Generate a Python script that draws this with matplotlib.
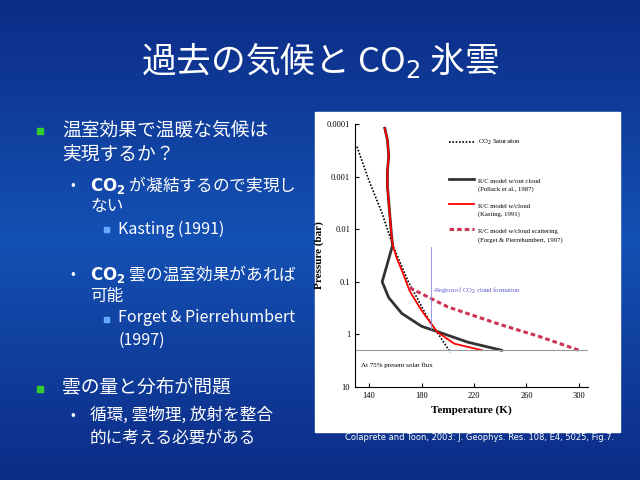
import numpy as np
import matplotlib.pyplot as plt
from matplotlib.colors import LinearSegmentedColormap
from matplotlib.patches import Rectangle

# --- chart data ---
sat_T = [130.8, 140, 150, 158, 170, 185, 202]
sat_p = [2.7e-4, 1.2e-3, 5e-3, 0.02, 0.1, 0.5, 2.2]

upper_T = [152, 154, 155, 154, 154, 155, 156, 157, 158]
upper_p = [1.2e-4, 2e-4, 4e-4, 8e-4, 1.5e-3, 3e-3, 6e-3, 1.2e-2, 2e-2]

red_T = upper_T + [161, 166, 171, 180, 192, 205, 226]
red_p = upper_p + [0.035, 0.07, 0.15, 0.35, 0.9, 1.5, 2.0]

blk_T = upper_T + [154, 150, 155, 165, 180, 193, 215, 241]
blk_p = upper_p + [0.045, 0.1, 0.2, 0.4, 0.7, 0.9, 1.4, 2.0]

pink_T = [171, 200, 240, 270, 300]
pink_p = [0.13, 0.3, 0.65, 1.1, 2.0]

W, H = 640, 480
fig = plt.figure(figsize=(6.4, 4.8), dpi=100)

# slide background gradient
bg = fig.add_axes([0, 0, 1, 1])
grad = np.linspace(0, 1, 256).reshape(-1, 1)
bg.imshow(grad, extent=[0, 1, 0, 1], aspect="auto",
          cmap=LinearSegmentedColormap.from_list("bg", ["#0c2c86", "#1451b4", "#0c2c86"]))
bg.set_xlim(0, 1); bg.set_ylim(0, 1)
bg.axis("off")

# white image panel (inside the background axes so it sits below the chart)
bg.add_patch(Rectangle((315 / W, 1 - 432 / H), 305 / W, 320 / H, color="white", zorder=3))

jp = "Noto Sans CJK JP"
def txt(x, y, s, size, **kw):
    fig.text(x / W, 1 - y / H, s, fontsize=size, fontfamily=jp,
             color=kw.pop("color", "white"), va=kw.pop("va", "center"), **kw)

def sq(x, y, s, c):
    bg.add_patch(Rectangle((x / W, 1 - (y + s / 2) / H), s / W, s / H, color=c, zorder=3))

txt(320, 60, "過去の気候と CO$_2$ 氷雲", 25, ha="center")

sq(37, 131, 6, "#33cc33")
txt(62, 130, "温室効果で温暖な気候は", 13.5)
txt(62, 155, "実現するか？", 13.5)
txt(70, 185, "•", 10)
txt(90, 185, r"$\mathbf{CO_2}$ が凝結するので実現し", 12)
txt(90, 207, "ない", 12)
sq(104, 229, 5, "#66aaff")
txt(118, 229, "Kasting (1991)", 11.5)
txt(70, 274, "•", 10)
txt(90, 274, r"$\mathbf{CO_2}$ 雲の温室効果があれば", 12)
txt(90, 296, "可能", 12)
sq(104, 319, 5, "#66aaff")
txt(118, 318, "Forget & Pierrehumbert", 11.5)
txt(118, 340, "(1997)", 11.5)
sq(37, 389, 6, "#33cc33")
txt(62, 388, "雲の量と分布が問題", 13.5)
txt(70, 415, "•", 10)
txt(90, 415, "循環, 雲物理, 放射を整合", 12)
txt(90, 438, "的に考える必要がある", 12)
fig.text(480 / W, 1 - 438 / H,
         "Colaprete and Toon, 2003: J. Geophys. Res. 108, E4, 5025, Fig.7.",
         fontsize=6, color="white", ha="center", va="center")

ax = fig.add_axes([355 / W, 1 - 387 / H, 233 / W, 263 / H])
ax.set_facecolor("white")
ax.set_yscale("log")
ax.set_xlim(129.3, 306.9)
ax.set_ylim(10, 1e-4)
ax.plot(sat_T, sat_p, color="black", ls=(0, (1, 1)), lw=1.2)
ax.plot(blk_T, blk_p, color="#333333", lw=2.0)
ax.plot(red_T, red_p, color="red", lw=1.3)
ax.plot(pink_T, pink_p, color="#cc3355", ls=(0, (1.5, 1)), lw=2.2)
ax.axhline(2.0, color="#999999", lw=0.8)
serif = "Liberation Serif"
ax.text(134, 4.2, "At 75% present solar flux", fontsize=5, fontfamily=serif)
ax.text(188, 0.16, "-Region of CO$_2$ cloud formation", fontsize=4.8,
        color="#5555cc", fontfamily=serif)
ax.plot([187, 187], [0.022, 0.8], color="#8888dd", lw=0.6)

leg = [("CO$_2$ Saturation", "black", (0, (1, 1)), 1.2, 2.2e-4),
       ("R/C model w/out cloud\n(Pollack et al., 1987)", "#333333", "-", 2.0, 1.1e-3),
       ("R/C model w/cloud\n(Kasting, 1991)", "red", "-", 1.3, 3.3e-3),
       ("R/C model w/cloud scattering\n(Forget & Pierrehumbert, 1997)", "#cc3355", (0, (1.5, 1)), 2.2, 1e-2)]
for lab, c, ls, lw, yp in leg:
    ax.plot([201, 220], [yp, yp], color=c, ls=ls, lw=lw)
    ax.text(223, yp, lab, fontsize=4.8, fontfamily=serif,
            va="top" if "\n" in lab else "center", linespacing=1.6)
ax.set_xticks([140, 180, 220, 260, 300])
ax.set_yticks([1e-4, 1e-3, 1e-2, 0.1, 1, 10])
ax.set_yticklabels(["0.0001", "0.001", "0.01", "0.1", "1", "10"])
ax.minorticks_off()
for lbl in ax.get_xticklabels() + ax.get_yticklabels():
    lbl.set_fontfamily(serif)
ax.tick_params(labelsize=6, length=3, direction="in")
ax.set_xlabel("Temperature (K)", fontsize=8, fontfamily=serif, fontweight="bold")
ax.set_ylabel("Pressure (bar)", fontsize=8, fontfamily=serif, fontweight="bold", labelpad=2)
for s in ("top", "right"):
    ax.spines[s].set_visible(False)

fig.savefig("out.png", dpi=100)
